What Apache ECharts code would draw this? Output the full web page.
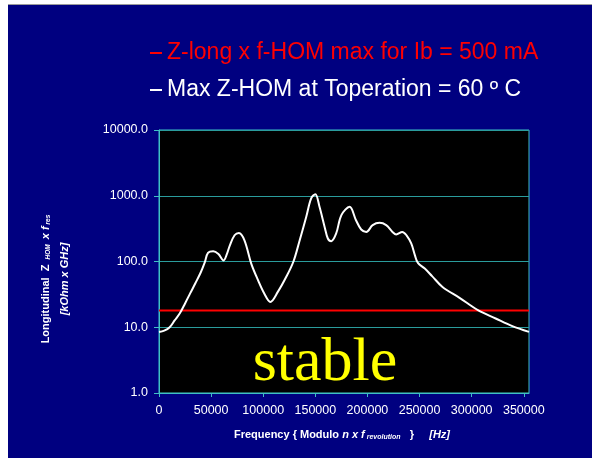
<!DOCTYPE html>
<html>
<head>
<meta charset="utf-8">
<script src="https://cdn.jsdelivr.net/npm/echarts@6/dist/echarts.min.js"></script>
<style>
  html, body { margin: 0; padding: 0; background: #ffffff; }
  #chart { width: 592px; height: 458px; }
</style>
</head>
<body>
<div id="chart"></div>
<script>
// Longitudinal HOM impedance spectrum vs. stability threshold
const frequencyHz = [0, 5000, 10000, 15000, 20000, 25000, 30000, 35000, 40000, 44000, 47000, 52000,
  57000, 62000, 65000, 68000, 72500, 76700, 82000, 88500, 95000, 101000, 106800, 114000, 122000,
  129000, 135000, 141300, 146000, 150000, 154000, 158900, 162000, 165300, 170000, 175000, 182900,
  189000, 194000, 198900, 205000, 211600, 218000, 224000, 227600, 233400, 237500, 242000, 245500,
  248400, 255000, 262000, 272000, 288000, 306000, 323000, 339000, 355000];
const maxZHom = [8.5, 8.9, 9.9, 12.7, 16.3, 23, 33, 47, 68, 98, 135, 143,
  130, 104, 128, 176, 251, 272, 210, 93, 52, 32.6, 24.3, 34.5, 58,
  100, 211, 478, 910, 1058, 678, 336, 224, 204, 267, 507, 678,
  425, 307, 282, 357, 387, 357, 282, 258, 282, 250, 188, 125,
  95, 78, 60, 41, 28.3, 18.2, 13.6, 10.4, 8.5];
const thresholdValue = 18;
const thresholdRange = [0, 355000];
const xTickValues = [0, 50000, 100000, 150000, 200000, 250000, 300000, 350000];

const seriesNames = ['Z-long x f-HOM max for Ib = 500 mA', 'Max Z-HOM at Toperation = 60 º C'];

const FONT = 'Liberation Sans, Arial, sans-serif';
const AXIS_CYAN = '#3fc0c4';
const GRID_TEAL = '#2a9c9c';

const chart = echarts.init(document.getElementById('chart'), null, { renderer: 'canvas' });

const option = {
  backgroundColor: '#000080',
  animation: false,
  textStyle: { fontFamily: FONT },
  legend: {
    orient: 'vertical',
    left: 145,
    top: 36.5,
    itemGap: 14,
    itemWidth: 12,
    itemHeight: 2,
    icon: 'rect',
    textStyle: { fontFamily: FONT, fontSize: 23 },
    data: [
      { name: seriesNames[0], textStyle: { color: '#ff0000' } },
      { name: seriesNames[1], textStyle: { color: '#ffffff' } }
    ]
  },
  grid: {
    left: 159, top: 130, right: 63, bottom: 65,
    show: true, backgroundColor: '#000000',
    borderColor: AXIS_CYAN, borderWidth: 1
  },
  xAxis: {
    type: 'value',
    min: 0,
    max: 355000,
    interval: 50000,
    axisLine: { show: true, lineStyle: { color: AXIS_CYAN, width: 1 } },
    axisTick: { show: true, length: 4, lineStyle: { color: AXIS_CYAN }, customValues: xTickValues },
    axisLabel: {
      color: '#ffffff', fontSize: 12.5, fontFamily: FONT, margin: 11,
      customValues: xTickValues, formatter: v => String(v)
    },
    splitLine: { show: false }
  },
  yAxis: {
    type: 'log',
    logBase: 10,
    min: 1,
    max: 10000,
    axisLine: { show: true, lineStyle: { color: AXIS_CYAN, width: 1 } },
    axisTick: { show: true, length: 5, lineStyle: { color: AXIS_CYAN } },
    axisLabel: {
      color: '#ffffff', fontSize: 12.5, fontFamily: FONT, margin: 11,
      formatter: v => Number(v).toFixed(1)
    },
    splitLine: { show: true, lineStyle: { color: GRID_TEAL, width: 1 } },
    minorTick: { show: false }
  },
  series: [
    {
      name: seriesNames[0],
      type: 'line',
      data: thresholdRange.map(x => [x, thresholdValue]),
      showSymbol: false,
      color: '#ff0000',
      lineStyle: { color: '#ff0000', width: 2 },
      z: 2
    },
    {
      name: seriesNames[1],
      type: 'line',
      data: frequencyHz.map((f, i) => [f, maxZHom[i]]),
      showSymbol: false,
      smooth: 0.35,
      color: '#ffffff',
      lineStyle: { color: '#ffffff', width: 2 },
      z: 3
    }
  ],
  graphic: [
    // page margins around the slide
    { type: 'rect', shape: { x: 0, y: 0, width: 592, height: 4 }, style: { fill: '#ffffff' }, silent: true },
    { type: 'rect', shape: { x: 0, y: 4, width: 592, height: 1 }, style: { fill: '#9a9a9a' }, silent: true },
    { type: 'rect', shape: { x: 0, y: 0, width: 8, height: 458 }, style: { fill: '#ffffff' }, silent: true },
    // y-axis title, two rotated lines
    {
      type: 'text', x: 46, y: 278, rotation: Math.PI / 2,
      style: {
        text: '{b|Longitudinal  Z }{s|HOM}{bi| x f}{s|res}',
        align: 'center', verticalAlign: 'middle',
        fill: '#ffffff',
        rich: {
          b: { fontFamily: FONT, fontWeight: 'bold', fontSize: 11, fill: '#ffffff', verticalAlign: 'middle' },
          bi: { fontFamily: FONT, fontWeight: 'bold', fontStyle: 'italic', fontSize: 11, fill: '#ffffff', verticalAlign: 'middle' },
          s: { fontFamily: FONT, fontWeight: 'bold', fontStyle: 'italic', fontSize: 6.5, fill: '#ffffff', verticalAlign: 'bottom', padding: [0, 2, 0, 2] }
        }
      },
      silent: true
    },
    {
      type: 'text', x: 65, y: 279, rotation: Math.PI / 2,
      style: {
        text: '[kOhm x GHz]',
        align: 'center', verticalAlign: 'middle',
        fill: '#ffffff',
        font: 'italic bold 11px ' + FONT
      },
      silent: true
    },
    // x-axis title
    {
      type: 'text', x: 342, y: 435,
      style: {
        text: '{b|Frequency { Modulo }{bi|n x f}{s| revolution}   }     {bi|[Hz]}',
        align: 'center', verticalAlign: 'middle',
        fill: '#ffffff',
        font: 'bold 11px ' + FONT,
        rich: {
          b: { fontFamily: FONT, fontWeight: 'bold', fontSize: 11, fill: '#ffffff', verticalAlign: 'middle' },
          bi: { fontFamily: FONT, fontWeight: 'bold', fontStyle: 'italic', fontSize: 11, fill: '#ffffff', verticalAlign: 'middle' },
          s: { fontFamily: FONT, fontWeight: 'bold', fontStyle: 'italic', fontSize: 7, fill: '#ffffff', verticalAlign: 'bottom' }
        }
      },
      silent: true
    },
    // stability region label
    {
      type: 'text', x: 325, y: 364,
      style: {
        text: 'stable',
        align: 'center', verticalAlign: 'middle',
        fill: '#ffff00',
        font: '62px Liberation Serif, Times New Roman, serif'
      },
      z: 10,
      silent: true
    }
  ]
};

chart.setOption(option);
</script>
</body>
</html>
